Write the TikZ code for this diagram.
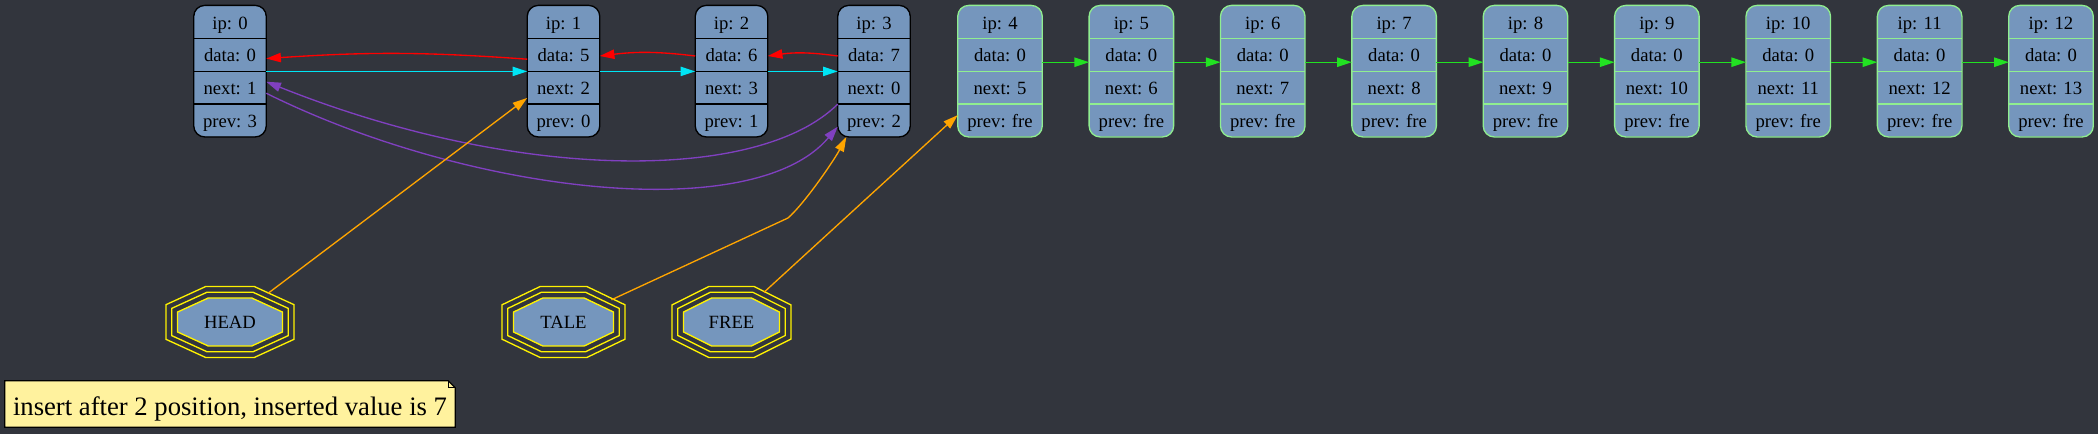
\documentclass[tikz,border=0pt]{standalone}
\usepackage{fontspec}
\setmainfont{Liberation Serif}
\usetikzlibrary{arrows.meta}
\usetikzlibrary{shapes.geometric}
\usetikzlibrary{backgrounds}
\tikzset{>={Triangle[length=11pt,width=7pt]}}

\definecolor{bgcol}{RGB}{50,53,61}
\definecolor{recfill}{RGB}{117,150,189}
\definecolor{freeline}{RGB}{144,238,144}
\definecolor{prevcol}{RGB}{255,0,0}
\definecolor{nextcol}{RGB}{0,229,245}
\definecolor{tailcol}{RGB}{128,64,192}
\definecolor{ptrcol}{RGB}{255,165,0}
\definecolor{freecol}{RGB}{34,226,34}
\definecolor{notefill}{RGB}{255,242,158}

\tikzset{
  cell/.style={inner sep=0pt, minimum height=24.56pt, text height=10.5pt, text depth=0pt,
    font=\fontsize{14}{16}\selectfont},
  octline/.style={draw=yellow, line width=1pt},
  octnode/.style={ellipse, inner sep=0pt, minimum height=52.5pt, text height=10.5pt, text depth=0pt,
    font=\fontsize{14}{16}\selectfont},
  edge/.style={->, line width=1pt},
}

% name, centre x, width (px), border colour, ip, data, next, prev
\newcommand{\record}[8]{%
  \fill[recfill, rounded corners=8.25pt] ({#2-#3/2},5.7) rectangle ({#2+#3/2},136.7);
  \node[cell, minimum width=#3*0.75pt] (#1-ip) at (#2,22.05) {ip: #5};
  \node[cell, minimum width=#3*0.75pt] (#1-data) at (#2,54.75) {data: #6};
  \node[cell, minimum width=#3*0.75pt] (#1-next) at (#2,87.5) {next: #7};
  \node[cell, minimum width=#3*0.75pt] (#1-prev) at (#2,120.3) {prev: #8};
  \draw[#4, line width=1pt] (#1-ip.south west) -- (#1-ip.south east)
    (#1-data.south west) -- (#1-data.south east)
    (#1-next.south west) -- (#1-next.south east);
  \draw[#4, line width=1pt, rounded corners=8.25pt] (#1-ip.north west) rectangle (#1-prev.south east);
}

% centre x, centre y, half width, half height of the inner octagon
\newcommand{\octagon}[4]{%
  \pgfmathsetmacro{\octn}{sqrt(#3*#3+#4*#4)/(#3*#4)}
  \foreach \d/\octfill in {0/recfill,5.75/none,11.5/none} {
    \pgfmathsetmacro{\oa}{#3+\d}
    \pgfmathsetmacro{\ob}{#4+\d}
    \pgfmathsetmacro{\ov}{#4*(0.4142+\d*\octn-\d/#3)}
    \pgfmathsetmacro{\oh}{#3*(0.4142+\d*\octn-\d/#4)}
    \draw[octline, fill=\octfill] ({#1+\oa},{#2+\ov}) -- ({#1+\oh},{#2+\ob}) -- ({#1-\oh},{#2+\ob})
      -- ({#1-\oa},{#2+\ov}) -- ({#1-\oa},{#2-\ov}) -- ({#1-\oh},{#2-\ob})
      -- ({#1+\oh},{#2-\ob}) -- ({#1+\oa},{#2-\ov}) -- cycle;
  }
}

\begin{document}
\begin{tikzpicture}[x=0.75pt, y=-0.75pt]
  \useasboundingbox (0,0) rectangle (2098,434);
  \begin{scope}[on background layer]
    \fill[bgcol] (0,0) rectangle (2098,434);
  \end{scope}

  % nodes in the list
  \record{n0}{230}{72}{black}{0}{0}{1}{3}
  \record{n1}{563.5}{72}{black}{1}{5}{2}{0}
  \record{n2}{731.5}{72}{black}{2}{6}{3}{1}
  \record{n3}{874}{72}{black}{3}{7}{0}{2}

  % free nodes
  \foreach \i [evaluate=\i as \x using 1000+(\i-4)*131.375, evaluate=\i as \nxt using int(\i+1)] in {4,...,12} {
    \record{n\i}{\x}{84}{freeline}{\i}{0}{\nxt}{fre}
  }

  % pointers
  \octagon{230}{322}{52.5}{24}
  \node[octnode, minimum width=96pt] (head) at (230,322) {HEAD};
  \octagon{563.5}{322}{50}{24}
  \node[octnode, minimum width=92.25pt] (tale) at (563.5,322) {TALE};
  \octagon{731.5}{322}{48}{24}
  \node[octnode, minimum width=89.25pt] (free) at (731.5,322) {FREE};

  % prev links
  \draw[edge, prevcol] (n1-data.187) to[bend right=4] (n0-data.-6);
  \draw[edge, prevcol] (n2-data.182) to[bend right=7] (n1-data.-2);
  \draw[edge, prevcol] (n3-data.182) to[bend right=8] (n2-data.-2);

  % next links
  \draw[edge, nextcol] (n0-data.south east) -- (n1-data.south west);
  \draw[edge, nextcol] (n1-data.south east) -- (n2-data.south west);
  \draw[edge, nextcol] (n2-data.south east) -- (n3-data.south west);

  % round the ends
  \draw[edge, tailcol] (n3-next.south west) .. controls (758,183) and (517,182) .. (n0-next.9);
  \draw[edge, tailcol] (n0-next.-9) .. controls (467,193) and (753,227) .. (n3-prev.190);

  \foreach \i [evaluate=\i as \j using int(\i+1)] in {4,...,11}
    \draw[edge, freecol] (n\i-data.-10) -- (n\j-data.190);

  \draw[edge, ptrcol] (head) -- (n1-next.196);
  \coordinate (talebend) at (788,218);
  \draw[edge, ptrcol] (tale) -- (talebend) .. controls +(17,-15) and +(-12,23) .. (n3-prev.211);
  \draw[edge, ptrcol] (free) -- (n4-prev.173);

  % note
  \node[inner sep=0pt, minimum width=337.5pt, minimum height=34.5pt, text height=16.5pt, text depth=0pt,
    font=\fontsize{20}{24}\selectfont] (note) at (230,404) {insert after 2 position, inserted value is 7};
  \begin{scope}[on background layer]
    \filldraw[fill=notefill, draw=black, line width=1pt] (note.south west) -- (note.south east)
      -- ([yshift=-5.25pt]note.north east) -- ([xshift=-5.25pt]note.north east) -- (note.north west) -- cycle;
    \draw[line width=1pt] ([xshift=-5.25pt]note.north east) |- ([yshift=-5.25pt]note.north east);
  \end{scope}
\end{tikzpicture}
\end{document}
